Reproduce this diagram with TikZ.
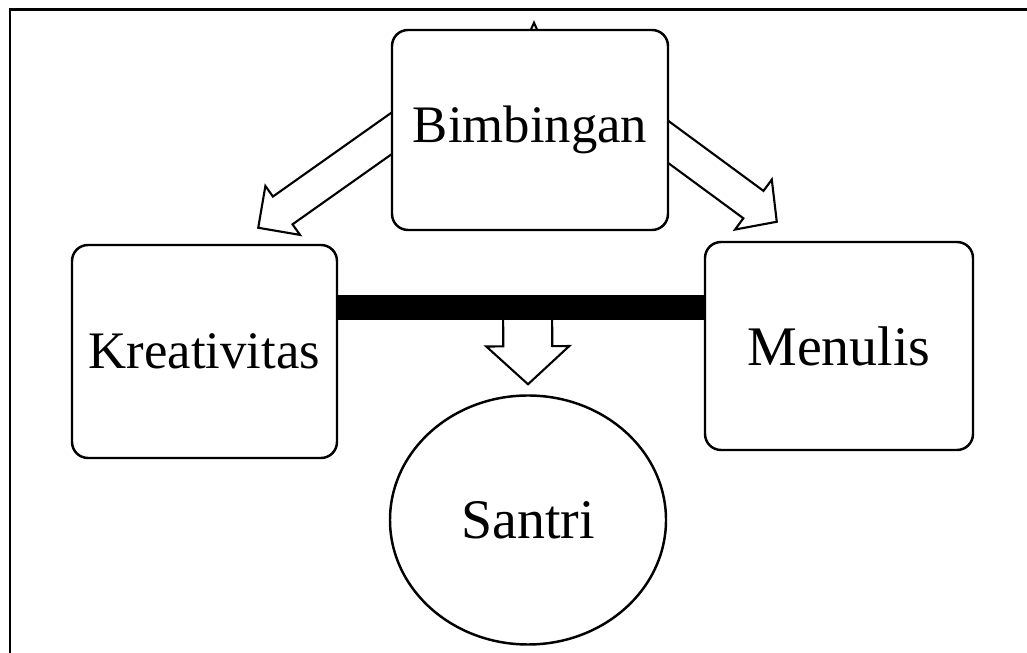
\documentclass[tikz,border=0pt]{standalone}
\usepackage{fontspec}
\setmainfont{Liberation Serif}
\usetikzlibrary{calc, positioning, shapes.geometric, backgrounds}
\tikzstyle{rbox} = [%
  rectangle,
  rounded corners=1.6mm,
  draw=black,
  line width=0.7pt,
  fill=white,
  align=center,
  text centered,
  inner sep=1pt,
  font=\fontsize{15}{18}\selectfont
]
\tikzstyle{obox} = [%
  ellipse,
  draw=black,
  line width=0.7pt,
  fill=white,
  align=center,
  inner sep=1pt,
  minimum width=27.6mm,
  minimum height=24.9mm,
  font=\fontsize{15.9}{18}\selectfont
]
% hollow block arrow: tail, tip, shaft half width, head half width, head length
\newcommand{\hollowarrow}[5]{%
  \coordinate (hb) at ($(#2)!#5!(#1)$);
  \draw[harrow] ($(#1)!#3!90:(#2)$) -- ($(hb)!#3!90:(#2)$) -- ($(hb)!#4!90:(#2)$)
    -- (#2) -- ($(hb)!#4!-90:(#2)$) -- ($(hb)!#3!-90:(#2)$) -- ($(#1)!#3!-90:(#2)$);
}

\begin{document}
\begin{tikzpicture}[%
  x=0.1mm,
  y=-0.1mm,
  harrow/.style={draw=black,fill=white,line width=0.6pt,line join=miter},
  bar/.style={line width=2.5mm,draw=black},
  frame/.style={draw=black,line width=0.85pt}
]
  \useasboundingbox (0,0) rectangle (1027,653);

  % Frame
  \draw[frame] (10,653) -- (10,10) -- (1027,10);

  % Nodes
  \node[rbox,minimum width=27.6mm,minimum height=20mm] (bim) at (530,130) {Bimbingan};
  \node[rbox,minimum width=26.5mm,minimum height=21.3mm] (kre) at (204.5,351.5) {Kreativitas};
  \node[rbox,minimum width=26.8mm,minimum height=20.8mm,font=\fontsize{15.9}{18}\selectfont] (men) at (839,346) {Menulis};
  \node[obox] (san) at (528,520) {Santri};

  % Ends of the connectors
  \coordinate (bk-tail) at ($(bim.west)+(24,-13)$);
  \coordinate (bk-tip) at ($(kre.north east)+(-80,-16)$);
  \coordinate (bm-tail) at ($(bim.east)+(-24,-5)$);
  \coordinate (bm-tip) at ($(men.north west)+(73,-19)$);
  \coordinate (bar-l) at ($(kre.east)+(0,-44)$);
  \coordinate (bar-r) at (men.west |- bar-l);
  \coordinate (bs-tail) at ($(bar-l)!0.518!(bar-r)$);
  \coordinate (bs-tip) at ($(san.north)+(0,-10)$);

  % Edges
  \begin{scope}[on background layer]
    \draw[harrow] ($(bim.north)+(0,3)$) -- ($(bim.north)+(4,-6)$) -- ($(bim.north)+(8,3)$);
    \hollowarrow{bk-tail}{bk-tip}{1.7mm}{3mm}{3mm}
    \hollowarrow{bm-tail}{bm-tip}{1.7mm}{3.1mm}{2.9mm}
    \hollowarrow{bs-tail}{bs-tip}{2.45mm}{4.15mm}{3.8mm}
    \draw[bar] (bar-l) -- (bar-r);
  \end{scope}

\end{tikzpicture}
\end{document}
